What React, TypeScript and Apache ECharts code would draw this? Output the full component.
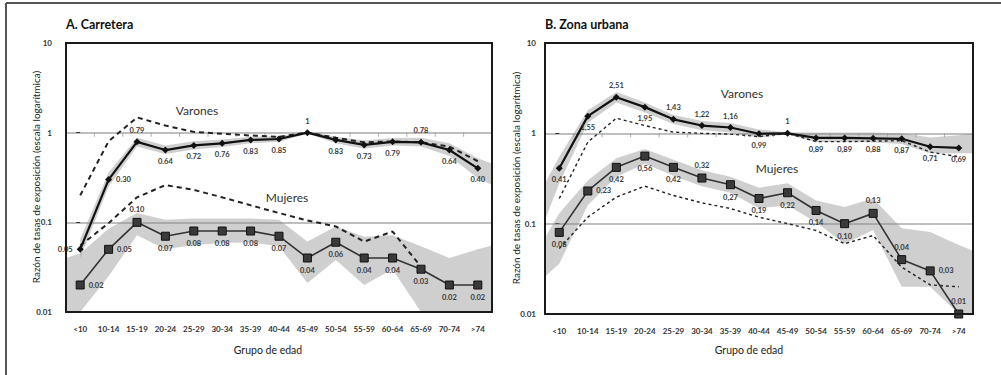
import React, { useEffect, useRef } from "react";
import * as echarts from "echarts";

// ---------- DATA ----------
const categories = ["<10", "10-14", "15-19", "20-24", "25-29", "30-34", "35-39", "40-44", "45-49", "50-54", "55-59", "60-64", "65-69", "70-74", ">74"];
const yTicks = [0.01, 0.1, 1, 10];
const yMin = 0.01;
const yMax = 10;

// A. Carretera
const carVarones = [0.05, 0.30, 0.79, 0.64, 0.72, 0.76, 0.83, 0.85, 1, 0.83, 0.73, 0.79, 0.78, 0.64, 0.40];
const carMujeres = [0.02, 0.05, 0.10, 0.07, 0.08, 0.08, 0.08, 0.07, 0.04, 0.06, 0.04, 0.04, 0.03, 0.02, 0.02];
const carVaronesDash = [0.2, 0.8, 1.48, 1.2, 1.02, 0.97, 0.93, 0.9, 1.0, 0.88, 0.78, 0.8, 0.78, 0.7, 0.48];
const carMujeresDash = [0.055, 0.098, 0.19, 0.26, 0.23, 0.19, 0.155, 0.127, 0.105, 0.09, 0.061, 0.079, 0.032, null, null];
const carVaronesLo = [0.04, 0.25, 0.70, 0.58, 0.65, 0.69, 0.76, 0.79, 0.98, 0.76, 0.66, 0.72, 0.70, 0.55, 0.31];
const carVaronesHi = [0.065, 0.36, 0.88, 0.72, 0.80, 0.84, 0.90, 0.92, 1.02, 0.90, 0.82, 0.87, 0.88, 0.76, 0.52];
const carVaronesEdges = { left: null, right: [0.26, 0.45] };
const carMujeresLo = [0.01, 0.025, 0.072, 0.05, 0.056, 0.059, 0.06, 0.054, 0.021, 0.038, 0.02, 0.03, 0.01, 0.01, 0.01];
const carMujeresHi = [0.045, 0.085, 0.127, 0.107, 0.11, 0.11, 0.11, 0.107, 0.061, 0.09, 0.069, 0.072, 0.054, 0.04, 0.05];
const carMujeresEdges = { left: [0.01, 0.04], right: [0.01, 0.055] };

// B. Zona urbana
const urbVarones = [0.41, 1.55, 2.51, 1.95, 1.43, 1.22, 1.16, 0.99, 1, 0.89, 0.89, 0.88, 0.87, 0.71, 0.69];
const urbMujeres = [0.08, 0.23, 0.42, 0.56, 0.42, 0.32, 0.27, 0.19, 0.22, 0.14, 0.10, 0.13, 0.04, 0.03, 0.01];
const urbVaronesDash = [0.19, 0.8, 1.47, 1.22, 1.03, 1.0, 0.98, 0.92, 1.0, 0.81, 0.81, 0.82, 0.83, 0.62, 0.55];
const urbMujeresDash = [0.053, 0.118, 0.197, 0.26, 0.205, 0.17, 0.147, 0.118, 0.1, 0.084, 0.06, 0.074, 0.033, 0.021, 0.02];
const urbVaronesLo = [0.28, 1.3, 2.2, 1.7, 1.27, 1.08, 1.02, 0.9, 0.97, 0.8, 0.8, 0.79, 0.76, 0.6, 0.6];
const urbVaronesHi = [0.55, 1.8, 2.86, 2.2, 1.6, 1.37, 1.3, 1.1, 1.03, 1.02, 1.02, 1.02, 1.0, 0.9, 0.95];
const urbVaronesEdges = { left: [0.11, 0.28], right: [0.6, 1.0] };
const urbMujeresLo = [0.036, 0.16, 0.33, 0.46, 0.34, 0.26, 0.22, 0.148, 0.16, 0.104, 0.06, 0.085, 0.02, 0.02, 0.01];
const urbMujeresHi = [0.13, 0.30, 0.53, 0.67, 0.51, 0.39, 0.33, 0.25, 0.28, 0.18, 0.153, 0.19, 0.089, 0.081, 0.058];
const urbMujeresEdges = { left: [0.026, 0.07], right: [0.01, 0.05] };

// label placement (style)
const carVaronesPos = ["left", "right", "top", "bottom", "bottom", "bottom", "bottom", "bottom", "top", "bottom", "bottom", "bottom", "top", "bottom", "bottom"];
const carMujeresPos = ["right", "right", "top", "bottom", "bottom", "bottom", "bottom", "bottom", "bottom", "bottom", "bottom", "bottom", "bottom", "bottom", "bottom"];
const urbVaronesPos = ["bottom", "bottom", "top", "bottom", "top", "top", "top", "bottom", "top", "bottom", "bottom", "bottom", "bottom", "bottom", "bottom"];
const urbMujeresPos = ["bottom", "right", "bottom", "bottom", "bottom", "top", "bottom", "bottom", "bottom", "bottom", "bottom", "top", "top", "right", "top"];

const FONT = "Lato, 'Open Sans', 'DejaVu Sans', sans-serif";

function fmt(v: number, comma: boolean) {
  const s = v === 1 ? "1" : v.toFixed(2);
  return comma ? s.replace(".", ",") : s;
}

function bandSeries(p: number, lo: number[], hi: number[], edges: any, color: string) {
  return {
    type: "custom",
    xAxisIndex: 2 * p + 1,
    yAxisIndex: p,
    clip: true,
    silent: true,
    z: 1,
    data: [[0, 1]],
    renderItem: (params: any, api: any) => {
      const top: number[][] = [];
      const bot: number[][] = [];
      if (edges.left) {
        top.push(api.coord([-0.5, edges.left[1]]));
        bot.push(api.coord([-0.5, edges.left[0]]));
      }
      for (let i = 0; i < hi.length; i++) {
        top.push(api.coord([i, hi[i]]));
        bot.push(api.coord([i, lo[i]]));
      }
      if (edges.right) {
        top.push(api.coord([hi.length - 0.5, edges.right[1]]));
        bot.push(api.coord([hi.length - 0.5, edges.right[0]]));
      }
      const pts = top.concat(bot.reverse());
      return { type: "polygon", shape: { points: pts }, style: { fill: color } };
    },
  };
}

// plot frame: a closed line through the corners of the axis extents
function frameSeries(p: number) {
  const x0 = -0.5;
  const x1 = categories.length - 0.5;
  return {
    type: "line",
    xAxisIndex: 2 * p + 1,
    yAxisIndex: p,
    clip: false,
    silent: true,
    z: 20,
    symbol: "none",
    lineStyle: { color: "#1a1a1a", width: 2, type: "solid" },
    data: [
      [x0, yMax],
      [x1, yMax],
      [x1, yMin],
      [x0, yMin],
      [x0, yMax],
    ],
  };
}

function lineSeries(p: number, vals: number[], pos: string[], comma: boolean, main: boolean) {
  return {
    type: "line",
    xAxisIndex: 2 * p + 1,
    yAxisIndex: p,
    z: 5,
    symbol: main ? "diamond" : "rect",
    symbolSize: main ? 7 : 8,
    lineStyle: { color: main ? "#111" : "#333", width: main ? 2.2 : 1.6 },
    itemStyle: { color: main ? "#111" : "#3a3a3a", borderColor: "#111", borderWidth: main ? 0 : 1 },
    label: {
      show: true,
      fontSize: 7.5,
      fontWeight: "bold",
      fontFamily: FONT,
      color: "#3a3a3a",
      distance: 4,
      formatter: (d: any) => fmt(d.value[1], comma),
    },
    data: vals.map((v, i) => ({ value: [i, v], label: { position: pos[i] } })),
  };
}

function dashSeries(p: number, vals: (number | null)[], width: number, dash: number[]) {
  return {
    type: "line",
    xAxisIndex: 2 * p + 1,
    yAxisIndex: p,
    z: 4,
    symbol: "none",
    lineStyle: { color: "#222", width, type: dash },
    data: vals.map((v, i) => (v == null ? null : [i, v])).filter((d) => d != null),
  };
}

function tickSeries(p: number) {
  return {
    type: "scatter",
    xAxisIndex: 2 * p + 1,
    yAxisIndex: p,
    z: 3,
    silent: true,
    symbol: "rect",
    symbolSize: [1, 4],
    symbolOffset: [0, 2],
    itemStyle: { color: "#9a9a9a" },
    data: categories.slice(1).map((_, i) => [i + 0.5, 1]),
  };
}

const grids = [
  { left: 66, top: 43, width: 426, height: 269 },
  { left: 545, top: 43, width: 428, height: 271 },
];

export default function App() {
  const ref = useRef<HTMLDivElement>(null);
  useEffect(() => {
    document.body.style.margin = "0";
    const chart = echarts.init(ref.current!, null, { renderer: "svg" });
    const bandColor = "rgba(140,140,140,0.42)";
    const xAxes: any[] = [];
    const yAxes: any[] = [];
    [0, 1].forEach((p) => {
      xAxes.push({
        type: "category",
        gridIndex: p,
        data: categories,
        boundaryGap: true,
        axisLine: { show: false },
        axisTick: { show: false },
        splitLine: { show: false },
        axisLabel: { fontSize: 8, fontWeight: "bold", fontFamily: FONT, color: "#333", margin: 13, interval: 0 },
      });
      xAxes.push({ type: "value", gridIndex: p, min: -0.5, max: 14.5, show: false });
      yAxes.push({
        type: "log",
        logBase: 10,
        gridIndex: p,
        min: yMin,
        max: yMax,
        axisLine: { show: false },
        axisTick: { show: true, length: 4, lineStyle: { color: "#333" } },
        axisLabel: {
          fontSize: 8,
          fontWeight: "bold",
          fontFamily: FONT,
          color: "#333",
          margin: p === 0 ? 14 : 9,
          formatter: (v: number) => (yTicks.indexOf(+v.toPrecision(3)) >= 0 ? String(+v.toPrecision(3)) : ""),
        },
        splitLine: { show: true, lineStyle: { color: "#a8a8a8", width: 1.5 } },
        minorTick: { show: false },
      });
    });

    const series: any[] = [
      bandSeries(0, carVaronesLo, carVaronesHi, carVaronesEdges, bandColor),
      bandSeries(0, carMujeresLo, carMujeresHi, carMujeresEdges, bandColor),
      tickSeries(0),
      dashSeries(0, carVaronesDash, 2, [5, 4]),
      dashSeries(0, carMujeresDash, 2, [5, 4]),
      lineSeries(0, carMujeres, carMujeresPos, false, false),
      lineSeries(0, carVarones, carVaronesPos, false, true),
      frameSeries(0),
      bandSeries(1, urbVaronesLo, urbVaronesHi, urbVaronesEdges, bandColor),
      bandSeries(1, urbMujeresLo, urbMujeresHi, urbMujeresEdges, bandColor),
      tickSeries(1),
      dashSeries(1, urbVaronesDash, 1.4, [3, 3]),
      dashSeries(1, urbMujeresDash, 1.4, [3, 3]),
      lineSeries(1, urbMujeres, urbMujeresPos, true, false),
      lineSeries(1, urbVarones, urbVaronesPos, true, true),
      frameSeries(1),
    ];

    const txt = (x: number, y: number, text: string, size: number, weight: string, extra: any = {}) => ({
      type: "text",
      x,
      y,
      z: 10,
      ...extra,
      style: { text, fontSize: size, fontWeight: weight, fontFamily: FONT, fill: "#222", ...(extra.style || {}) },
    });
    const yName = "Razón de tasas de exposición (escala logarítmica)";

    chart.setOption({
      animation: false,
      grid: grids.map((g) => ({ ...g, containLabel: false, show: true, borderColor: "#1a1a1a", borderWidth: 2 })),
      xAxis: xAxes,
      yAxis: yAxes,
      series,
      graphic: [
        { type: "line", shape: { x1: 6, y1: 3, x2: 1001, y2: 3 }, style: { stroke: "#555", lineWidth: 2 } },
        { type: "line", shape: { x1: 6, y1: 3, x2: 6, y2: 375 }, style: { stroke: "#555", lineWidth: 2 } },
        txt(66, 24, "A. Carretera", 12.5, "bold", { style: { verticalAlign: "middle", fill: "#111" } }),
        txt(545, 24, "B. Zona urbana", 12.5, "bold", { style: { verticalAlign: "middle", fill: "#111" } }),
        txt(36, 177, yName, 10, "normal", { rotation: Math.PI / 2, style: { align: "center", verticalAlign: "middle" } }),
        txt(516, 178, yName, 10, "normal", { rotation: Math.PI / 2, style: { align: "center", verticalAlign: "middle" } }),
        txt(268, 350, "Grupo de edad", 10.5, "normal", { style: { align: "center", verticalAlign: "middle" } }),
        txt(749, 350, "Grupo de edad", 10.5, "normal", { style: { align: "center", verticalAlign: "middle" } }),
        txt(197, 110, "Varones", 12, "normal", { style: { align: "center", verticalAlign: "middle", fill: "#333" } }),
        txt(287, 197, "Mujeres", 12, "normal", { style: { align: "center", verticalAlign: "middle", fill: "#333" } }),
        txt(742, 93, "Varones", 12, "normal", { style: { align: "center", verticalAlign: "middle", fill: "#333" } }),
        txt(777, 168, "Mujeres", 12, "normal", { style: { align: "center", verticalAlign: "middle", fill: "#333" } }),
      ],
    });
    return () => chart.dispose();
  }, []);
  return <div ref={ref} style={{ width: 1001, height: 375 }} />;
}
